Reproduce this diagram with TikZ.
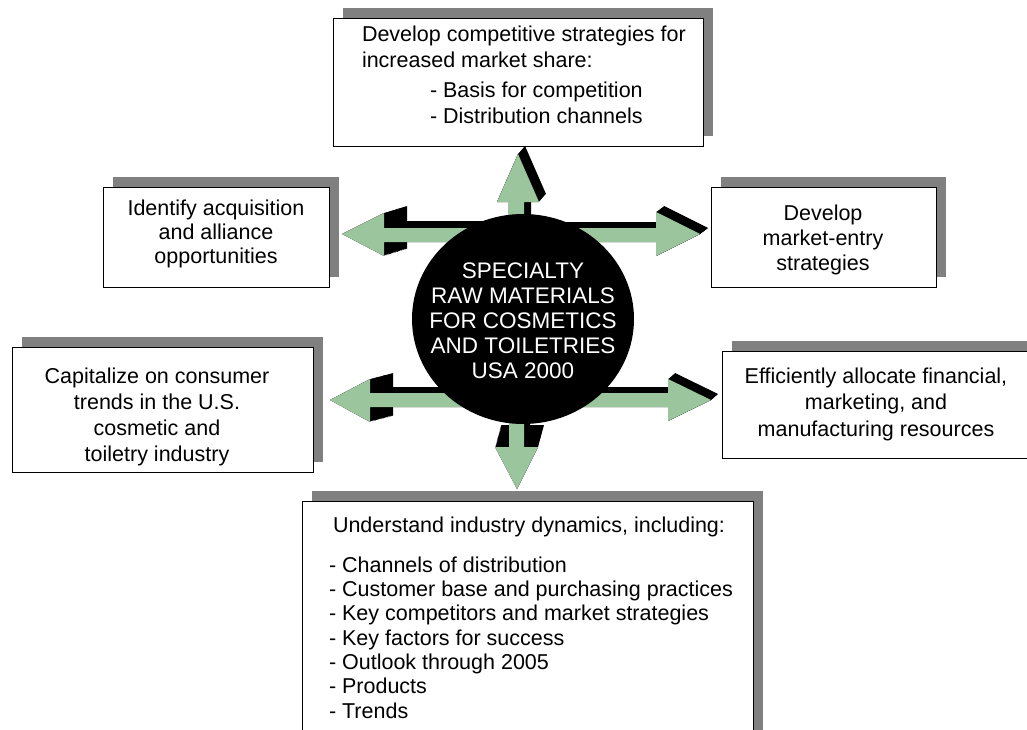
\documentclass[tikz,border=0pt]{standalone}
\usepackage{fontspec}
\setmainfont{Liberation Sans}
\usetikzlibrary{shapes.geometric}

\definecolor{arrowgreen}{RGB}{155,197,157}
\definecolor{shadowgray}{RGB}{128,128,128}

% panel with a drop shadow: name, x1, y1, x2, y2 (y grows downwards)
\newcommand\shadowpanel[5]{%
  \fill[shadowgray] ({#2+10},{#3-10}) rectangle ({#4+10},{#5-10});
  \node[card, anchor=north west, minimum width={#4-#2}, minimum height={#5-#3}] (#1) at (#2,#3) {};
}

% solid black body of an arrow, swept along its depth vector
\newcommand\arrowbody[3]{%
  \foreach \t in {0,0.05,...,1.01}
    \fill[black, shift={({\t*(#2)},{\t*(#3)})}] #1;
}
\newcommand\arrowface[1]{\fill[arrowgreen] #1;}

% arrow outlines
\def\arrowUL{(342,234) -- (384,213) -- (384,228) -- (523,228) -- (523,242) -- (384,242) -- (384,256) -- cycle}
\def\arrowUR{(523,228) -- (656,228) -- (656,212) -- (700,234) -- (656,256) -- (656,242) -- (523,242) -- cycle}
\def\arrowLL{(330,400) -- (370,379) -- (370,393) -- (523,393) -- (523,407) -- (370,407) -- (370,422) -- cycle}
\def\arrowLR{(523,393) -- (668,393) -- (668,379) -- (711,400) -- (668,421) -- (668,407) -- (523,407) -- cycle}
\def\arrowUp{(518,154) -- (539,202) -- (524,202) -- (524,319) -- (508,319) -- (508,202) -- (497,202) -- cycle}
\def\arrowDown{(517,489) -- (495,447) -- (509,447) -- (509,319) -- (524,319) -- (524,447) -- (538,447) -- cycle}

\begin{document}
\begin{tikzpicture}[x=1pt, y=-1pt,
  card/.style={draw=black, line width=0.8pt, fill=white, inner sep=0pt, outer sep=0pt},
  boxtext/.style={inner sep=0pt, outer sep=0pt, text=black},
]
\clip (0,0) rectangle (1027,730);
\fill[white] (0,0) rectangle (1027,730);

% ---- panels ----
\shadowpanel{goals}{333}{18}{703}{146}
\shadowpanel{acq}{103}{187}{329}{287}
\shadowpanel{entry}{711}{187}{936}{287}
\shadowpanel{trends}{12}{347}{313}{472}
\shadowpanel{alloc}{722}{351}{1032}{458}
\shadowpanel{dyn}{302}{501}{753}{760}

% ---- panel texts (anchored on the baseline of their last line) ----
\node[boxtext, anchor=base west, align=left, font=\fontsize{21.5}{26}\selectfont] (goalsText) at (362,124)
  {Develop competitive strategies for\\ increased market share:\\[4pt]
   \hspace*{68pt}- Basis for competition\\ \hspace*{68pt}- Distribution channels};
\node[boxtext, anchor=base, align=center, font=\fontsize{21.5}{24}\selectfont] (acqText) at (216,263)
  {Identify acquisition\\ and alliance\\ opportunities};
\node[boxtext, anchor=base, align=center, font=\fontsize{21.5}{25}\selectfont] (entryText) at (823,270)
  {Develop\\ market-entry\\ strategies};
\node[boxtext, anchor=base, align=center, font=\fontsize{21.5}{25.8}\selectfont] (trendsText) at (157,461)
  {Capitalize on consumer\\ trends in the U.S.\\ cosmetic and\\ toiletry industry};
\node[boxtext, anchor=base, align=center, font=\fontsize{21.5}{26.5}\selectfont] (allocText) at (876,436)
  {Efficiently allocate financial,\\ marketing, and\\ manufacturing resources};
\node[boxtext, anchor=base west, align=left, font=\fontsize{21.5}{24.33}\selectfont] (dynText) at (329,718)
  {\hspace*{4pt}Understand industry dynamics, including:\\[14.7pt]
   - Channels of distribution\\
   - Customer base and purchasing practices\\
   - Key competitors and market strategies\\
   - Key factors for success\\
   - Outlook through 2005\\
   - Products\\
   - Trends};

% ---- arrows: black depth first, green faces on top ----
\arrowbody{\arrowUL}{23}{-7}
\arrowbody{\arrowLL}{23}{-6}
\arrowbody{\arrowUR}{8}{-6}
\arrowbody{\arrowLR}{7}{-6}
\arrowbody{\arrowUp}{7}{-8}
\arrowbody{\arrowDown}{6}{-22}

\arrowface{\arrowUL}
\arrowface{\arrowLL}
\arrowface{\arrowUR}
\arrowface{\arrowLR}
\arrowface{\arrowUp}
\arrowface{\arrowDown}

% ---- central hub ----
\node[ellipse, fill=black, inner sep=0pt, minimum width=222, minimum height=210] (hub) at (523,319) {};
\node[boxtext, text=white, anchor=base, align=center, font=\fontsize{22.5}{25}\selectfont] (hubText) at (523,378)
  {SPECIALTY\\ RAW MATERIALS\\ FOR COSMETICS\\ AND TOILETRIES\\ USA 2000};
\end{tikzpicture}
\end{document}
